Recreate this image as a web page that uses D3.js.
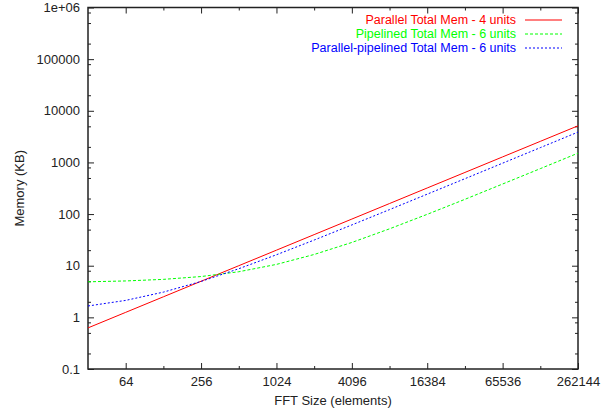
<!DOCTYPE html>
<html>
<head>
<meta charset="utf-8">
<script src="https://cdn.jsdelivr.net/npm/d3@7/dist/d3.min.js"></script>
<style>
  html, body { margin: 0; padding: 0; background: #fff; }
  svg { display: block; font-family: "Liberation Sans", Arial, Helvetica, sans-serif; }
</style>
</head>
<body>
<svg id="chart" width="608" height="413"></svg>
<script>
// FFT sizes (elements), powers of two from 32 to 262144
const fftSizes = [32, 64, 128, 256, 512, 1024, 2048, 4096, 8192, 16384, 32768, 65536, 131072, 262144];

// Memory in KB for each configuration
const parallelMem = [0.625, 1.25, 2.5, 5, 10, 20, 40, 80, 160, 320, 640, 1280, 2560, 5120];
const pipelinedMem = [4.88, 5.07, 5.44, 6.17, 7.64, 10.6, 16.5, 28.2, 51.8, 98.9, 193, 382, 758, 1512];
const parPipeMem = [1.66, 2.13, 3.08, 4.96, 8.74, 16.3, 31.4, 61.6, 122, 243, 484, 967, 1933, 3865];

const seriesNames = ["Parallel Total Mem - 4 units", "Pipelined Total Mem - 6 units", "Parallel-pipelined Total Mem - 6 units"];
const seriesColors = ["#ff0000", "#00ff00", "#0000ff"];
const seriesDashes = ["none", "3,2", "2,2"];
const seriesValues = [parallelMem, pipelinedMem, parPipeMem];

// Axis ticks
const xMajorTicks = [64, 256, 1024, 4096, 16384, 65536, 262144];
const xMinorTicks = [128, 512, 2048, 8192, 32768, 131072];
const yMajorTicks = [0.1, 1, 10, 100, 1000, 10000, 100000, 1000000];
const yTickLabels = ["0.1", "1", "10", "100", "1000", "10000", "100000", "1e+06"];
const yMinorFactors = [2, 5, 8];

const plotLeft = 88, plotRight = 578, plotTop = 7.5, plotBottom = 369;

const svg = d3.select("#chart");

const x = d3.scaleLog().base(2).domain([32, 262144]).range([plotLeft, plotRight]);
const y = d3.scaleLog().domain([0.1, 1e6]).range([plotBottom, plotTop]);

const yMinorTicks = [];
yMajorTicks.slice(0, -1).forEach(d => yMinorFactors.forEach(f => yMinorTicks.push(d * f)));

const fontSize = 13;
const legendFontSize = 12.5;
const tickColor = "#222";

function styleAxis(g) {
  g.select(".domain").remove();
  g.selectAll(".tick line").attr("stroke", tickColor).attr("stroke-width", 1);
  g.selectAll(".tick text").attr("fill", "#222").style("font-size", fontSize + "px")
    .style("font-family", "'Liberation Sans', Arial, Helvetica, sans-serif");
}

// Bottom axis: major ticks with labels, pointing inward
svg.append("g").attr("transform", `translate(0,${plotBottom})`)
  .call(d3.axisBottom(x).tickValues(xMajorTicks).tickFormat(d => String(d)).tickSize(-6).tickPadding(8))
  .call(styleAxis);
svg.append("g").attr("transform", `translate(0,${plotBottom})`)
  .call(d3.axisBottom(x).tickValues(xMinorTicks).tickFormat("").tickSize(-3))
  .call(styleAxis);
// Top mirror ticks
svg.append("g").attr("transform", `translate(0,${plotTop})`)
  .call(d3.axisTop(x).tickValues(xMajorTicks).tickFormat("").tickSize(-6))
  .call(styleAxis);
svg.append("g").attr("transform", `translate(0,${plotTop})`)
  .call(d3.axisTop(x).tickValues(xMinorTicks).tickFormat("").tickSize(-3))
  .call(styleAxis);

// Left axis
svg.append("g").attr("transform", `translate(${plotLeft},0)`)
  .call(d3.axisLeft(y).tickValues(yMajorTicks).tickFormat((d, i) => yTickLabels[i]).tickSize(-6).tickPadding(8))
  .call(styleAxis);
svg.append("g").attr("transform", `translate(${plotLeft},0)`)
  .call(d3.axisLeft(y).tickValues(yMinorTicks).tickFormat("").tickSize(-3))
  .call(styleAxis);
// Right mirror ticks
svg.append("g").attr("transform", `translate(${plotRight},0)`)
  .call(d3.axisRight(y).tickValues(yMajorTicks).tickFormat("").tickSize(-6))
  .call(styleAxis);
svg.append("g").attr("transform", `translate(${plotRight},0)`)
  .call(d3.axisRight(y).tickValues(yMinorTicks).tickFormat("").tickSize(-3))
  .call(styleAxis);

// Plot border
svg.append("rect")
  .attr("x", plotLeft).attr("y", plotTop)
  .attr("width", plotRight - plotLeft).attr("height", plotBottom - plotTop)
  .attr("fill", "none").attr("stroke", tickColor).attr("stroke-width", 1.5);

// Series lines
const lineGen = d3.line().x((d, i) => x(fftSizes[i])).y(d => y(d));
seriesValues.forEach((vals, k) => {
  svg.append("path")
    .datum(vals)
    .attr("d", lineGen)
    .style("fill", "none")
    .style("stroke", seriesColors[k])
    .style("stroke-width", 1)
    .style("stroke-dasharray", seriesDashes[k]);
});

// Legend
const legendTextX = 516, legendLineX1 = 525, legendLineX2 = 562;
const legendY0 = 20, legendStep = 14;
const legend = svg.append("g");
seriesNames.forEach((name, k) => {
  const ly = legendY0 + k * legendStep;
  legend.append("text")
    .attr("x", legendTextX).attr("y", ly)
    .attr("dy", "0.35em")
    .attr("text-anchor", "end")
    .style("fill", seriesColors[k])
    .style("font-size", legendFontSize + "px")
    .text(name);
  legend.append("line")
    .attr("x1", legendLineX1).attr("x2", legendLineX2)
    .attr("y1", ly).attr("y2", ly)
    .style("stroke", seriesColors[k])
    .style("stroke-width", 1.2)
    .style("stroke-dasharray", seriesDashes[k]);
});

// Axis titles
svg.append("text")
  .attr("transform", `translate(24,${(plotTop + plotBottom) / 2}) rotate(-90)`)
  .attr("text-anchor", "middle")
  .attr("fill", "#222")
  .style("font-size", fontSize + "px")
  .text("Memory (KB)");

svg.append("text")
  .attr("x", (plotLeft + plotRight) / 2).attr("y", 405)
  .attr("text-anchor", "middle")
  .attr("fill", "#222")
  .style("font-size", fontSize + "px")
  .text("FFT Size (elements)");
</script>
</body>
</html>
